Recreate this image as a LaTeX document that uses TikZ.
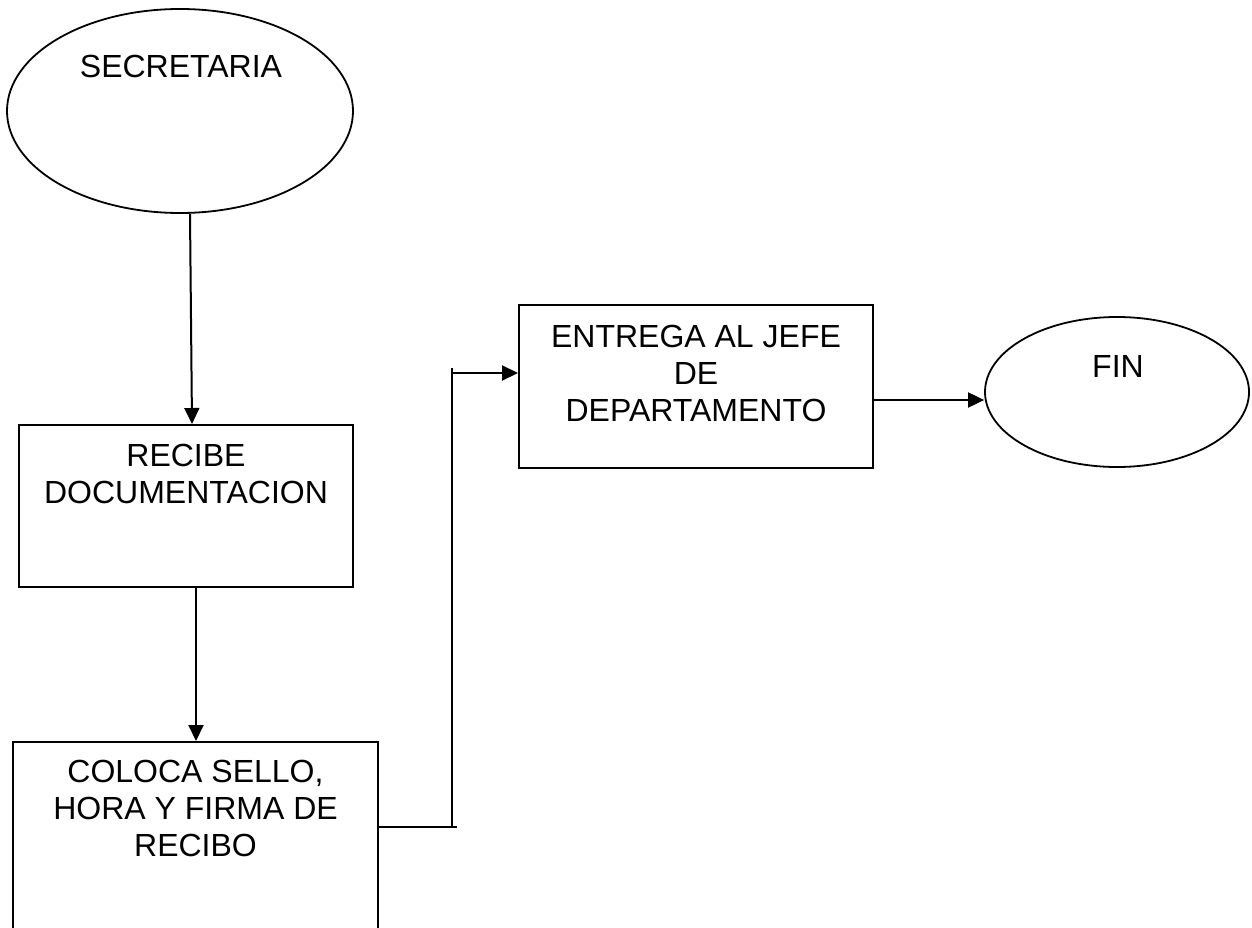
\documentclass[tikz,border=0pt]{standalone}
\usepackage{fontspec}
\setmainfont{Liberation Sans}
\usetikzlibrary{shapes.geometric,arrows.meta}
\tikzset{
  box/.style={draw=black, line width=2pt, rectangle, inner sep=0pt},
  oval/.style={draw=black, line width=1.8pt, ellipse, inner sep=0pt},
  txt/.style={inner sep=0pt, align=center, font=\fontsize{32}{37}\selectfont, anchor=north},
  line/.style={draw=black, line width=2pt},
  arr/.style={line, -{Triangle[length=16pt,width=15pt]}}
}
\begin{document}
\begin{tikzpicture}[x=1pt,y=-1pt]
\useasboundingbox (0,0) rectangle (1252,928);
\clip (0,0) rectangle (1252,928);
% shapes
\node[oval, minimum width=346pt, minimum height=204pt] (sec) at (180,111) {};
\node[box, minimum width=334pt, minimum height=162pt] (recibe) at (186,506) {};
\node[box, minimum width=365pt, minimum height=218pt] (coloca) at (195.5,851) {};
\node[box, minimum width=354pt, minimum height=163pt] (entrega) at (696,386.5) {};
\node[oval, minimum width=264pt, minimum height=150pt] (fin) at (1117,392) {};
% texts
\node[txt] (secT) at (181,55) {SECRETARIA};
\node[txt] (recibeT) at (186,444) {RECIBE\\DOCUMENTACION};
\node[txt] (colocaT) at (195.5,760) {COLOCA SELLO,\\HORA Y FIRMA DE\\RECIBO};
\node[txt] (entregaT) at (696,325) {ENTREGA AL JEFE\\DE\\DEPARTAMENTO};
\node[txt] (finT) at (1118,355) {FIN};
% junction coordinates
\coordinate (jb) at (457,827);
\coordinate (jv) at (452,827);
\coordinate (jt) at (452,368);
\coordinate (ja) at (452,373);
% connectors
\draw[arr] ([xshift=10pt]sec.south) -- ([xshift=6pt]recibe.north);
\draw[arr] ([xshift=10pt]recibe.south) -- ([xshift=0.5pt]coloca.north);
\draw[line] ([yshift=24pt]coloca.east) -- (jb);
\draw[line] (jv) -- (jt);
\draw[arr] (ja) -- (ja -| entrega.west);
\draw[arr] ([yshift=-13.5pt]entrega.east) -- ([yshift=-8pt]fin.west);
\end{tikzpicture}
\end{document}
